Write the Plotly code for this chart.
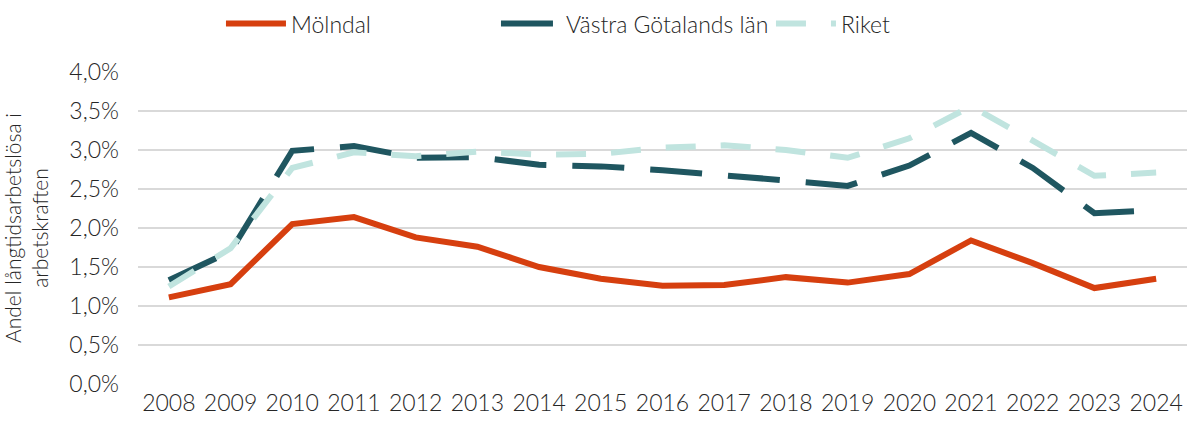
import plotly.graph_objects as go

years = [str(y) for y in range(2008, 2025)]
molndal = [1.11, 1.28, 2.05, 2.14, 1.88, 1.76, 1.50, 1.35, 1.26, 1.27, 1.37, 1.30, 1.41, 1.84, 1.55, 1.23, 1.35]
vastra_gotaland = [1.33, 1.70, 2.99, 3.05, 2.90, 2.91, 2.81, 2.79, 2.74, 2.68, 2.61, 2.54, 2.80, 3.22, 2.77, 2.19, 2.23]
riket = [1.25, 1.74, 2.77, 2.97, 2.92, 2.98, 2.94, 2.95, 3.03, 3.06, 3.00, 2.90, 3.15, 3.56, 3.12, 2.67, 2.71]

font_family = "Lato, 'Open Sans', sans-serif"
text_color = "#262626"

fig = go.Figure()
fig.add_trace(go.Scatter(x=years, y=molndal, name="Mölndal", mode="lines",
                         line=dict(color="#D63F0F", width=6)))
fig.add_trace(go.Scatter(x=years, y=vastra_gotaland, name="Västra Götalands län", mode="lines",
                         line=dict(color="#1F5660", width=6, dash="52px,26px")))
fig.add_trace(go.Scatter(x=years, y=riket, name="Riket", mode="lines",
                         line=dict(color="#C0E4DF", width=6, dash="30px,25px")))

fig.update_layout(
    width=1188, height=423,
    margin=dict(l=138, r=1, t=72, b=39),
    paper_bgcolor="white", plot_bgcolor="white",
    separators=", ",
    font=dict(family=font_family, color=text_color, size=23, weight=300),
    legend=dict(orientation="h", xref="container", yref="container",
                x=0.186, xanchor="left", y=0.995, yanchor="top",
                font=dict(size=23, weight=300), itemwidth=60, tracegroupgap=0,
                entrywidth=200),
    showlegend=True,
)
fig.update_xaxes(type="category", range=[-0.5, 16.5], showgrid=False, showline=False,
                 ticks="", tickfont=dict(size=23, weight=300), automargin=False,
                 ticklabelstandoff=3)
fig.update_yaxes(range=[0, 4], dtick=0.5, tickformat=".1f", ticksuffix="%",
                 showgrid=True, gridcolor="#D9D9D9", gridwidth=1.5, zeroline=False,
                 showline=False, ticks="", ticklabelstandoff=18, automargin=False,
                 tickfont=dict(size=23, weight=300),
                 title=dict(text="Andel långtidsarbetslösa i<br>arbetskraften",
                            font=dict(size=21, weight=300), standoff=16))

fig.write_html("out.html", config={"displayModeBar": False},
               post_script="document.body.style.margin='0';")
